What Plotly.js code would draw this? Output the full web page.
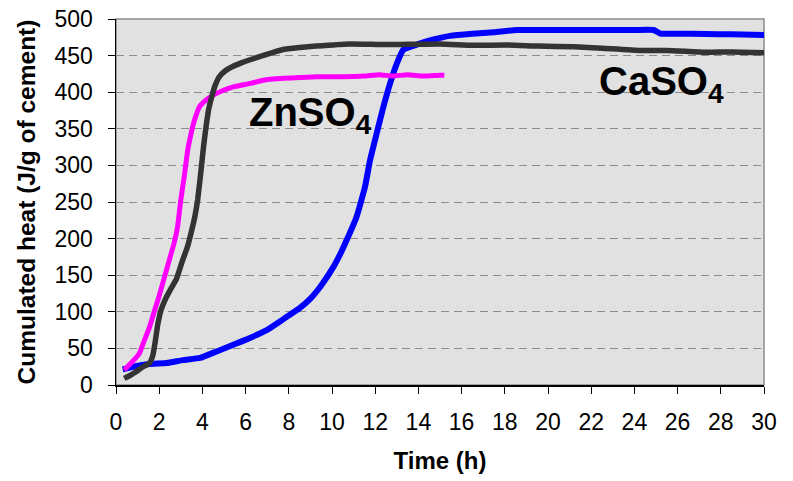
<!DOCTYPE html>
<html>
<head>
<meta charset="utf-8">
<script src="https://cdn.plot.ly/plotly-3.0.1.min.js"></script>
<style>
  html, body { margin: 0; padding: 0; background: #ffffff; }
  #chart { width: 793px; height: 481px; }
</style>
</head>
<body>
<div id="chart"></div>
<script>
// Time (h) and cumulated heat (J/g of cement) for each series
const blueTime = [0.31, 0.8, 1.54, 2.35, 3.09, 3.89, 4.63, 5.43, 6.17, 6.98, 7.75, 8.5, 9.0, 9.5, 10.06, 10.4, 10.68, 11.14, 11.53, 11.76, 12.07, 12.38, 12.69, 13.0, 13.3, 13.92, 14.7, 15.46, 16.5, 17.5, 18.55, 20, 22, 24, 24.9, 25.2, 26, 27.3, 28.5, 30];
const blueHeat = [21.4, 25, 28.7, 30, 34, 37, 45.5, 55, 64, 75, 90, 105, 118, 136, 161, 180, 198, 230, 271, 307, 344, 380, 412, 439, 458, 465, 472, 477, 480, 482, 485, 485, 485, 485, 485, 480, 480, 479.5, 479, 478];

const znTime = [0.38, 0.7, 1.08, 1.3, 1.54, 1.8, 2.0, 2.25, 2.47, 2.7, 2.85, 3.0, 3.16, 3.32, 3.45, 3.55, 3.7, 3.86, 4.2, 4.63, 5.0, 5.4, 6.2, 6.94, 7.75, 8.5, 9.3, 10.5, 11.5, 12.2, 12.8, 13.5, 14.2, 15.0, 15.2];
const znHeat = [20.5, 30, 43, 60, 78, 103, 122, 148, 171, 195, 216, 253, 285, 321, 340, 353, 368, 380, 390, 398, 403, 407, 412, 417, 419, 420, 421, 421, 422, 424, 422, 424, 422, 423, 423];

const caTime = [0.38, 0.65, 0.93, 1.2, 1.54, 1.7, 1.82, 1.93, 2.08, 2.3, 2.55, 2.8, 3.09, 3.3, 3.47, 3.65, 3.78, 3.94, 4.05, 4.17, 4.3, 4.47, 4.6, 4.78, 5.05, 5.4, 5.8, 6.17, 6.9, 7.7, 8.5, 9.26, 10.8, 12.5, 15, 16.5, 18.1, 19.5, 21.2, 22.5, 24.3, 25.5, 27.3, 28.5, 30];
const caHeat = [9, 13, 18, 24, 29.6, 40, 60, 82, 102, 118, 132, 145, 171, 188, 207, 230, 253, 294, 325, 353, 378, 398, 410, 421, 429, 435, 440, 444, 451, 458, 461, 463, 466, 465, 466, 464, 464.5, 463, 462, 460, 457, 457, 454.5, 455, 454];

const xTicks = [0, 2, 4, 6, 8, 10, 12, 14, 16, 18, 20, 22, 24, 26, 28, 30];
const yTicks = [0, 50, 100, 150, 200, 250, 300, 350, 400, 450, 500];

const FONT = "Liberation Sans, Arial, Helvetica, sans-serif";

const traces = [
  { x: blueTime, y: blueHeat, type: "scatter", mode: "lines", name: "Reference",
    line: { color: "#0000ff", width: 6, shape: "spline", smoothing: 0.4 } },
  { x: znTime, y: znHeat, type: "scatter", mode: "lines", name: "ZnSO4",
    line: { color: "#ff00ff", width: 5, shape: "spline", smoothing: 0.4 } },
  { x: caTime, y: caHeat, type: "scatter", mode: "lines", name: "CaSO4",
    line: { color: "#333333", width: 5.5, shape: "spline", smoothing: 0.4 } }
];

const layout = {
  width: 793, height: 481,
  margin: { l: 116, r: 29, t: 19, b: 96 },
  paper_bgcolor: "#ffffff",
  plot_bgcolor: "#e1e1e1",
  showlegend: false,
  font: { family: FONT, color: "#000000", size: 23 },
  xaxis: {
    range: [0, 30], tickvals: xTicks, ticktext: xTicks.map(String),
    ticks: "outside", ticklen: 7, tickcolor: "#000", tickwidth: 1,
    showgrid: false, zeroline: false,
    showline: true, linecolor: "#000", linewidth: 1.5,
    tickfont: { size: 23, family: FONT },
    ticklabelstandoff: 9,
    title: { text: "<b>Time (h)</b>", font: { size: 24, family: FONT }, standoff: 18 }
  },
  yaxis: {
    range: [0, 500], tickvals: yTicks, ticktext: yTicks.map(String),
    ticks: "outside", ticklen: 7, tickcolor: "#000", tickwidth: 1,
    showgrid: true, gridcolor: "#8c8c8c", gridwidth: 1, griddash: "8px,5px",
    zeroline: false,
    showline: true, linecolor: "#000", linewidth: 1.5,
    tickfont: { size: 23, family: FONT },
    ticklabelstandoff: 10,
    title: { text: "<b>Cumulated heat (J/g of cement)</b>", font: { size: 24.5, family: FONT }, standoff: 12 }
  },
  shapes: [
    { type: "rect", xref: "paper", yref: "paper", x0: 0, x1: 1, y0: 0, y1: 1,
      line: { color: "#8c8c8c", width: 1.5 }, fillcolor: "rgba(0,0,0,0)", layer: "below" }
  ],
  annotations: [
    { xref: "x", yref: "y", x: 6.05, y: 406, xanchor: "left", yanchor: "top",
      text: "<b>ZnSO<sub>4</sub></b>", showarrow: false,
      font: { size: 40, family: FONT, color: "#000" } },
    { xref: "x", yref: "y", x: 22.27, y: 448, xanchor: "left", yanchor: "top",
      text: "<b>CaSO<sub>4</sub></b>", showarrow: false,
      font: { size: 40, family: FONT, color: "#000" } }
  ]
};

Plotly.newPlot("chart", traces, layout, { displayModeBar: false, staticPlot: true });
</script>
</body>
</html>
